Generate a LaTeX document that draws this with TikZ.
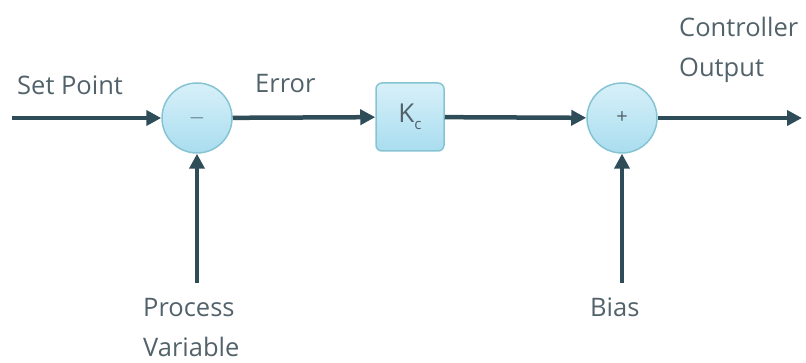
\documentclass[tikz,border=0pt]{standalone}
\usepackage{fontspec}
\setmainfont{Open Sans}
\usetikzlibrary{arrows.meta}
\definecolor{linec}{HTML}{2F4D58}
\definecolor{textc}{HTML}{52626A}
\definecolor{fillc}{HTML}{C6EAF6}
\definecolor{fillb}{HTML}{A9DDEF}
\definecolor{edgec}{HTML}{86C4D4}
\tikzset{
  sumnode/.style={circle, minimum size=70pt, inner sep=0pt, draw=edgec, line width=1.5pt,
    top color=fillc!70!white, bottom color=fillb, font=\fontsize{20}{22}\selectfont, text=textc},
  gainbox/.style={rectangle, rounded corners=6pt, minimum size=68pt, inner sep=0pt, draw=edgec,
    line width=1.5pt, top color=fillc!70!white, bottom color=fillb, text=textc,
    font=\fontsize{26}{30}\selectfont},
  lbl/.style={text=textc, font=\fontsize{25.5}{30}\selectfont, inner sep=0pt, anchor=base west},
  flow/.style={draw=linec, line width=4.5pt, -{Triangle[length=15pt,width=15pt]}}
}
\begin{document}
\begin{tikzpicture}[x=1pt,y=-1pt]
\useasboundingbox (0,0) rectangle (806,363);
\node[sumnode] (s1) at (197,118) {$-$};
\node[gainbox] (kc) at (410,117) {K\raisebox{-0.5ex}{\fontsize{15}{16}\selectfont c}};
\node[sumnode] (s2) at (622,118) {+};
\coordinate (sp) at (12,118);
\coordinate (out) at (802,118);
\coordinate (pv) at (197,283);
\coordinate (bs) at (622,283);
\draw[flow] (sp) -- (s1);
\draw[flow] (s1) -- (kc);
\draw[flow] (kc) -- (s2);
\draw[flow] (s2) -- (out);
\draw[flow] (pv) -- (s1);
\draw[flow] (bs) -- (s2);
\node[lbl] (tsp) at (17,95) {Set Point};
\node[lbl] (terr) at (255,93) {Error};
\node[lbl] (tco) at (679,37) {Controller};
\node[lbl] (tout) at (679,77) {Output};
\node[lbl] (tpv) at (143,317) {Process};
\node[lbl] (tvar) at (143,356) {Variable};
\node[lbl] (tbias) at (590,317) {Bias};
\end{tikzpicture}
\end{document}
